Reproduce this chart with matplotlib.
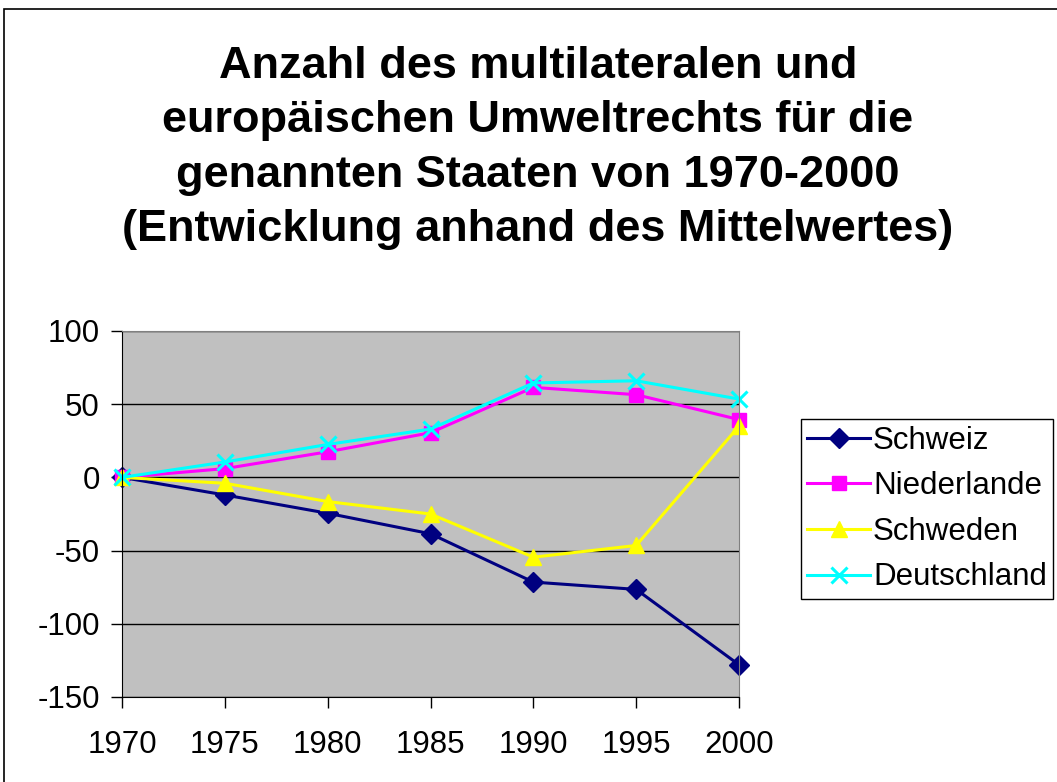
import matplotlib
matplotlib.use("Agg")
import matplotlib.pyplot as plt
from matplotlib.patches import Rectangle

years = [1970, 1975, 1980, 1985, 1990, 1995, 2000]
schweiz = [0, -12, -24.5, -38.5, -71.5, -76.5, -128]
niederlande = [0, 6, 17.5, 30.5, 61.5, 56.5, 39.5]
schweden = [0, -4, -16.5, -25, -54.5, -46.5, 35]
deutschland = [0, 10.5, 22.5, 33, 64.5, 66, 53.5]
series = [
    ("Schweiz", schweiz, "#000080", "D", 10),
    ("Niederlande", niederlande, "#FF00FF", "s", 9.5),
    ("Schweden", schweden, "#FFFF00", "^", 11),
    ("Deutschland", deutschland, "#00FFFF", "x", 11),
]
title = ("Anzahl des multilateralen und\neuropäischen Umweltrechts für die\n"
         "genannten Staaten von 1970-2000\n(Entwicklung anhand des Mittelwertes)")

plt.rcParams['font.family'] = ['Liberation Sans', 'DejaVu Sans']
plt.rcParams['axes.unicode_minus'] = False

W, H = 1057, 782
fig = plt.figure(figsize=(W / 100, H / 100), dpi=100)
fig.patches.append(Rectangle((4 / W, -0.1), 1.2, 1 - 9 / H + 0.1, transform=fig.transFigure,
                             fill=False, edgecolor='black', linewidth=1.2))

ax = fig.add_axes([122 / W, 1 - 697 / H, (739 - 122) / W, (697 - 331) / H])
ax.set_facecolor('#C0C0C0')
for name, vals, col, mk, ms in series:
    kw = dict(markeredgewidth=2.2) if mk == 'x' else dict(markeredgecolor=col)
    ax.plot(years, vals, color=col, marker=mk, markersize=ms, linewidth=2.2,
            label=name, clip_on=False, **kw)

ax.set_xlim(1970, 2000)
ax.set_ylim(-150, 100)
ax.set_xticks(years)
ax.set_yticks(range(-150, 101, 50))
ax.yaxis.grid(True, color='black', linewidth=1)
ax.set_axisbelow(True)
ax.tick_params(axis='both', labelsize=22.5, length=8, width=1, direction='out', color='black')
ax.tick_params(axis='x', pad=16)
ax.tick_params(axis='y', pad=8)
ax.spines['left'].set_color('black')
ax.spines['bottom'].set_color('black')
ax.spines['top'].set_color('#808080')
ax.spines['right'].set_color('#808080')

fig.text(538 / W, 1 - 46 / H, title, ha='center', va='top', fontsize=32.5,
         fontweight='bold', linespacing=1.42)

leg = ax.legend(loc='center left', bbox_to_anchor=(801 / W, 1 - 509 / H),
                bbox_transform=fig.transFigure, fontsize=22.5, frameon=True,
                fancybox=False, edgecolor='black', framealpha=1, borderpad=0.2,
                handlelength=2.0, handletextpad=0.1, labelspacing=0.5, borderaxespad=0)
leg.get_frame().set_linewidth(1)

fig.savefig("out.png", dpi=100)
